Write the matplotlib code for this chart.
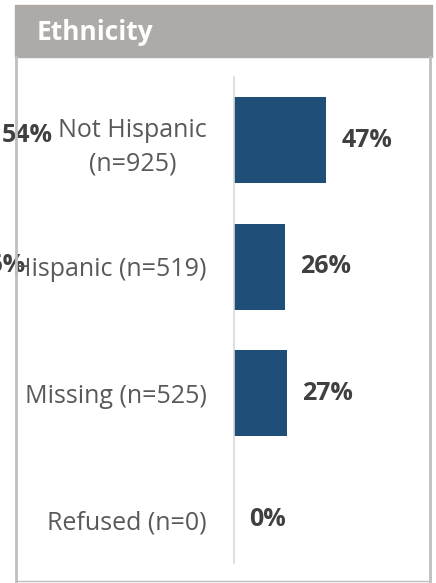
import numpy as np
import matplotlib.pyplot as plt
from matplotlib.patches import Rectangle
from matplotlib.lines import Line2D

plt.rcParams['font.family'] = ['Open Sans', 'DejaVu Sans']

categories = ['Not Hispanic\n(n=925)', 'Hispanic (n=519)', 'Missing (n=525)', 'Refused (n=0)']
values = [47, 26, 27, 0]
# stray labels of a hidden series that show up left of the panel
ghost_labels = ['54%', '36%']

W, H = 436, 583
fig = plt.figure(figsize=(W / 100, H / 100), dpi=100)


def fx(px):
    return px / W


def fy(py):
    return 1 - py / H


# header band
fig.patches.append(Rectangle((fx(15), fy(57)), fx(432) - fx(15), fy(5) - fy(57),
                             transform=fig.transFigure, color='#aeaaa8', zorder=0))
fig.text(fx(37), fy(33), 'Ethnicity', color='white', fontsize=19, fontweight='bold',
         va='center', ha='left')

# panel border
for x0, y0, x1, y1, lw in [(16, 57, 16, 581, 2), (430, 57, 430, 581, 2), (16, 581, 430, 581, 1)]:
    fig.add_artist(Line2D([fx(x0), fx(x1)], [fy(y0), fy(y1)], transform=fig.transFigure,
                          color='#bfbfbf', lw=lw))

# ghost labels, drawn under the axes
fig.text(fx(53), fy(135), ghost_labels[0], ha='right', va='center', fontsize=18,
         fontweight='bold', color='#404040', zorder=-1)
fig.text(fx(25), fy(265), ghost_labels[1], ha='right', va='center', fontsize=18,
         fontweight='bold', color='#404040', zorder=-1)

# axes: left edge at x=234, y from 77 to 563
ax = fig.add_axes([fx(234), fy(563), fx(430) - fx(234), fy(77) - fy(563)])
y = np.arange(len(categories))
ax.barh(y, values, height=0.68, color='#1f4e79')
ax.set_xlim(0, 100)
ax.set_ylim(3.34, -0.5)
for s in ['top', 'right', 'bottom']:
    ax.spines[s].set_visible(False)
ax.spines['left'].set_color('#d9d9d9')
ax.spines['left'].set_linewidth(1.2)
ax.set_xticks([])
ax.set_yticks(y)
ax.set_yticklabels(categories, fontsize=18, color='#595959', multialignment='center',
                   linespacing=1.45)
ax.tick_params(axis='y', length=0, pad=19.5)
ax.patch.set_alpha(0)

for yi, v in zip(y, values):
    ax.annotate(f'{v}%', (v, yi), xytext=(11, 0), textcoords='offset points',
                ha='left', va='center', fontsize=18, fontweight='bold', color='#404040')

fig.savefig('out.png', dpi=100)
